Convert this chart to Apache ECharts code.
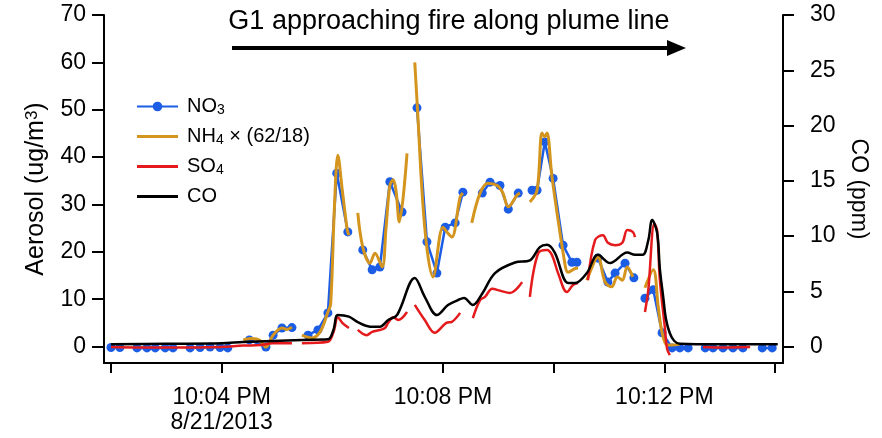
<!DOCTYPE html>
<html>
<head>
<meta charset="utf-8">
<script src="https://cdn.jsdelivr.net/npm/echarts@6/dist/echarts.min.js"></script>
<style>
html,body{margin:0;padding:0;background:#fff;}
#chart{width:882px;height:438px;}
</style>
</head>
<body>
<div id="chart"></div>
<script>
// x values are minutes after 10:00 PM, 8/21/2013
const xTicks = [2, 4, 6, 8, 10, 12, 14];
const xLabelValues = [4, 8, 12];
const xTickLabels = {4: '10:04 PM\n8/21/2013', 8: '10:08 PM', 12: '10:12 PM'};
const aerosolTicks = [0, 10, 20, 30, 40, 50, 60, 70];
const coTicks = [0, 5, 10, 15, 20, 25, 30];

// NO3 (ug/m3), sampled points
const no3 = [
  [2.00,-0.2],[2.16,-0.2],[2.31,'-'],
  [2.47,-0.3],[2.65,-0.3],[2.80,-0.3],[2.98,-0.3],[3.12,-0.3],[3.27,'-'],
  [3.43,-0.3],[3.61,-0.2],[3.79,-0.1],[3.97,-0.2],[4.11,-0.3],[4.25,'-'],
  [4.50,1.4],[4.80,-0.1],[4.93,2.4],[5.09,3.9],[5.27,4.0],[5.40,'-'],
  [5.56,2.4],[5.74,3.5],[5.92,7.1],[6.08,36.6],[6.28,24.2],[6.37,'-'],
  [6.55,20.4],[6.72,16.2],[6.86,16.8],[7.04,34.8],[7.26,28.4],[7.42,'-'],
  [7.53,50.4],[7.71,22.1],[7.89,15.5],[8.04,25.2],[8.22,26.1],[8.36,32.6],[8.45,'-'],
  [8.71,32.4],[8.85,34.7],[9.03,34.0],[9.18,29.0],[9.36,32.4],[9.48,'-'],
  [9.61,33.0],[9.70,33.0],[9.84,43.2],[9.99,35.5],[10.17,21.4],[10.33,17.8],[10.42,17.8],[10.52,'-'],
  [10.80,18.7],[10.98,13.6],[11.11,15.5],[11.29,17.6],[11.45,14.5],[11.55,'-'],
  [11.65,10.2],[11.80,12.0],[11.96,2.9],[12.14,-0.3],[12.28,-0.3],[12.43,-0.3],[12.58,'-'],
  [12.74,-0.3],[12.88,-0.3],[13.06,-0.3],[13.24,-0.3],[13.42,-0.3],[13.60,'-'],
  [13.77,-0.3],[13.95,-0.3]
];

// NH4 x (62/18) (ug/m3)
const nh4 = [
  [4.39,1.4],[4.55,1.7],[4.69,1.3],[4.80,-0.1],[4.93,2.4],[5.09,3.9],[5.18,3.6],[5.27,4.1],[5.36,'-'],
  [5.45,2.4],[5.63,1.8],[5.78,3.1],[5.92,7.3],[5.97,9.0],[6.04,30.0],[6.10,40.4],[6.18,33.0],[6.27,24.6],[6.30,23.5],[6.38,'-'],
  [6.46,28.2],[6.55,21.0],[6.68,17.6],[6.77,19.7],[6.90,16.8],[6.97,25.0],[7.04,34.0],[7.10,35.2],[7.15,33.0],[7.21,26.3],[7.35,40.8],[7.42,'-'],
  [7.49,60.0],[7.53,52.0],[7.67,25.2],[7.82,14.7],[8.00,25.2],[8.09,23.9],[8.16,23.1],[8.31,31.6],[8.36,32.4],[8.45,'-'],
  [8.52,26.1],[8.67,32.4],[8.81,34.5],[8.98,34.0],[9.08,32.5],[9.18,29.5],[9.34,32.0],[9.39,32.4],[9.48,'-'],
  [9.57,30.5],[9.70,33.0],[9.79,45.1],[9.84,44.3],[9.88,45.1],[9.97,35.8],[10.21,17.0],[10.26,15.7],[10.39,16.5],[10.44,16.6],[10.52,'-'],
  [10.60,14.0],[10.75,18.3],[10.80,19.0],[10.93,13.6],[11.05,12.6],[11.15,14.7],[11.24,14.0],[11.33,16.8],[11.43,14.7],[11.55,'-'],
  [11.65,12.4],[11.80,16.2],[11.89,8.4],[11.96,2.9],[12.05,0.3],[12.14,0.3],[12.28,0.5]
];

// SO4 (ug/m3)
const so4 = [
  [2.00,-0.1],[2.50,-0.2],[3.00,-0.2],[3.50,-0.2],[4.00,-0.1],[4.39,0.2],[4.69,0.3],[4.93,0.7],[5.27,0.7],[5.36,'-'],
  [5.45,0.7],[5.92,1.0],[6.02,3.0],[6.10,6.2],[6.18,5.0],[6.30,3.9],[6.38,'-'],
  [6.46,3.5],[6.62,2.4],[6.72,3.1],[6.86,3.5],[6.95,3.9],[7.01,5.0],[7.10,6.2],[7.19,5.6],[7.35,7.3],[7.42,'-'],
  [7.49,8.8],[7.67,5.6],[7.85,2.9],[8.06,5.0],[8.16,5.2],[8.31,7.1],[8.45,'-'],
  [8.54,6.0],[8.67,9.8],[8.76,10.5],[8.89,12.2],[9.03,11.8],[9.21,11.3],[9.43,13.6],[9.50,'-'],
  [9.57,10.5],[9.72,19.7],[9.88,20.4],[9.97,19.3],[10.08,15.5],[10.24,11.5],[10.35,13.0],[10.44,13.4],[10.52,'-'],
  [10.62,14.0],[10.75,22.5],[10.89,23.5],[10.98,21.9],[11.11,21.4],[11.24,21.9],[11.33,24.6],[11.43,24.2],[11.47,23.1],[11.56,'-'],
  [11.65,7.3],[11.71,11.9],[11.82,26.0],[11.87,24.5],[11.92,14.0],[12.01,4.0],[12.05,-0.5],[12.10,-1.8],[12.40,'-'],
  [12.70,-0.1],[13.00,-0.2],[13.55,-0.1]
];

// CO (ppm)
const co = [
  [2.00,0.2],[3.00,0.25],[4.00,0.3],[4.39,0.4],[5.45,0.6],[5.92,0.65],[6.02,1.5],[6.10,2.85],[6.30,2.7],
  [6.46,2.2],[6.68,1.8],[6.86,1.8],[7.01,2.4],[7.17,2.85],[7.49,6.2],[7.67,4.5],[7.89,2.85],[8.09,3.75],
  [8.27,4.2],[8.38,4.4],[8.54,3.75],[8.71,4.8],[8.94,6.65],[9.30,7.6],[9.57,7.8],[9.75,9.0],[9.88,9.2],
  [10.02,8.5],[10.26,5.75],[10.39,5.75],[10.60,6.65],[10.80,8.3],[11.02,7.55],[11.33,8.5],[11.47,8.3],
  [11.61,8.3],[11.71,9.6],[11.78,11.45],[11.87,10.3],[11.92,7.0],[11.98,4.5],[12.03,2.5],[12.10,1.2],
  [12.18,0.5],[12.28,0.25],[13.00,0.2],[14.05,0.2]
];

const seriesNames = ['NO3', 'NH4', 'SO4', 'CO'];
const legendLabels = {
  NO3: 'NO{sub|3}',
  NH4: 'NH{sub|4} × (62/18)',
  SO4: 'SO{sub|4}',
  CO: 'CO'
};

const FONT = '"Liberation Sans", Arial, Helvetica, sans-serif';
const chart = echarts.init(document.getElementById('chart'), null, {renderer: 'canvas'});

const axisLineStyle = {color: '#000', width: 2};
const lineIcon = 'path://M0,0L41,0L41,3L0,3Z';

chart.setOption({
  animation: false,
  backgroundColor: '#fff',
  textStyle: {fontFamily: FONT},
  title: {
    text: 'G1 approaching fire along plume line',
    left: 444,
    textAlign: 'center',
    top: 3,
    textStyle: {fontFamily: FONT, fontSize: 27, fontWeight: 'normal', color: '#000'}
  },
  graphic: [
    {type: 'line', shape: {x1: 232, y1: 48, x2: 672, y2: 48}, style: {stroke: '#000', lineWidth: 4}},
    {type: 'polygon', shape: {points: [[667, 40], [686, 48], [667, 56]]}, style: {fill: '#000'}}
  ],
  legend: {
    orient: 'vertical',
    left: 131,
    top: 91,
    itemWidth: 41,
    itemHeight: 12,
    itemGap: 9,
    data: [
      {name: 'NO3'},
      {name: 'NH4', icon: lineIcon},
      {name: 'SO4', icon: lineIcon},
      {name: 'CO', icon: lineIcon}
    ],
    formatter: name => legendLabels[name],
    textStyle: {
      fontFamily: FONT, fontSize: 20, color: '#000', lineHeight: 21, padding: [0, 0, 0, 4],
      rich: {
        sub: {fontFamily: FONT, fontSize: 14, lineHeight: 6, verticalAlign: 'bottom', color: '#000'}
      }
    }
  },
  grid: {left: 104, right: 99, top: 15, bottom: 75},
  xAxis: {
    type: 'value',
    min: 1.8735,
    max: 14.145,
    splitLine: {show: false},
    axisLine: {show: true, onZero: false, lineStyle: axisLineStyle},
    axisTick: {show: true, length: 10, customValues: xTicks, lineStyle: {color: '#000', width: 2}},
    axisLabel: {
      customValues: xLabelValues,
      formatter: v => xTickLabels[Math.round(v)] || '',
      margin: 22,
      fontFamily: FONT, fontSize: 23, color: '#000', lineHeight: 25
    }
  },
  yAxis: [
    {
      type: 'value',
      min: -3.48,
      max: 70,
      position: 'left',
      name: 'Aerosol (ug/m{sup|3})',
      nameLocation: 'middle',
      nameGap: 55,
      nameTextStyle: {
        fontFamily: FONT, fontSize: 25, color: '#000',
        rich: {sup: {fontFamily: FONT, fontSize: 17, lineHeight: 6, verticalAlign: 'top', color: '#000'}}
      },
      splitLine: {show: false},
      axisLine: {show: true, onZero: false, lineStyle: axisLineStyle},
      axisTick: {show: true, length: 12, customValues: aerosolTicks, lineStyle: {color: '#000', width: 2}},
      axisLabel: {customValues: aerosolTicks, margin: 18, fontFamily: FONT, fontSize: 23, color: '#000'}
    },
    {
      type: 'value',
      min: -1.49,
      max: 30,
      position: 'right',
      name: 'CO (ppm)',
      nameLocation: 'middle',
      nameRotate: -90,
      nameGap: 64,
      nameTextStyle: {fontFamily: FONT, fontSize: 23, color: '#000'},
      splitLine: {show: false},
      axisLine: {show: true, onZero: false, lineStyle: axisLineStyle},
      axisTick: {show: true, length: 11, customValues: coTicks, lineStyle: {color: '#000', width: 2}},
      axisLabel: {customValues: coTicks, margin: 27, fontFamily: FONT, fontSize: 23, color: '#000'}
    }
  ],
  series: [
    {
      name: 'NO3', type: 'line', data: no3, yAxisIndex: 0,
      symbol: 'circle', symbolSize: 9, showSymbol: true,
      connectNulls: false,
      itemStyle: {color: '#1c5de6'},
      lineStyle: {color: '#1c5de6', width: 2.5},
      z: 2
    },
    {
      name: 'NH4', type: 'line', data: nh4, yAxisIndex: 0,
      symbol: 'none', smooth: 0.35, connectNulls: false,
      itemStyle: {color: '#d4951e'},
      lineStyle: {color: '#d4951e', width: 3},
      z: 3
    },
    {
      name: 'SO4', type: 'line', data: so4, yAxisIndex: 0,
      symbol: 'none', smooth: 0.35, connectNulls: false,
      itemStyle: {color: '#e41a1c'},
      lineStyle: {color: '#e41a1c', width: 2.5},
      z: 4
    },
    {
      name: 'CO', type: 'line', data: co, yAxisIndex: 1,
      symbol: 'none', smooth: 0.35,
      itemStyle: {color: '#000'},
      lineStyle: {color: '#000', width: 2.5},
      z: 5
    }
  ]
});
</script>
</body>
</html>
